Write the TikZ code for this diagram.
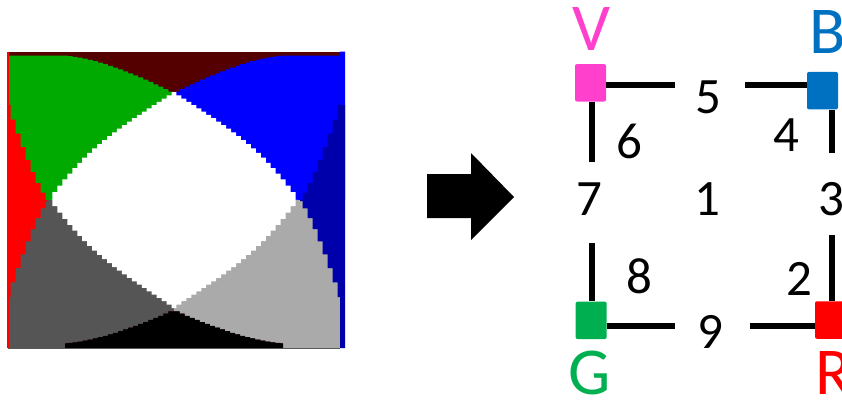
\documentclass[tikz,border=0pt]{standalone}
\usepackage{fontspec}
\setmainfont{Carlito}
\definecolor{mapdkred}{HTML}{550000}
\definecolor{mapgreen}{HTML}{00AA00}
\definecolor{mapblue}{HTML}{0000FF}
\definecolor{mapdkblue}{HTML}{0000AA}
\definecolor{mapdkgray}{HTML}{555555}
\definecolor{mapltgray}{HTML}{AAAAAA}
\definecolor{mapred}{HTML}{FF0000}
\definecolor{vpink}{HTML}{FF40CC}
\definecolor{bblue}{HTML}{0070C0}
\definecolor{ggreen}{HTML}{00B050}
\definecolor{rred}{HTML}{FF0000}
\begin{document}
\begin{tikzpicture}[x=1pt,y=-1pt,
  wire/.style={line width=6pt},
  marker/.style={rectangle, rounded corners=2pt, minimum width=31pt,
                 minimum height=37.5pt, inner sep=0pt},
  digit/.style={anchor=base, inner sep=0pt, font=\fontsize{51}{51}\selectfont},
  cornerlabel/.style={anchor=base, inner sep=0pt, font=\fontsize{67}{67}\selectfont},
  stairs/.style={const plot mark mid, samples=#1},
  declare function={bulge(\t)=\t*(1+(1-\t)*(0.65-0.45*\t));}]
\useasboundingbox (0,0) rectangle (842,400);

% ---- pixelated region map ----
\fill[mapdkred] (7.5,51.7) rectangle (345,348);
% upper left (green)
\fill[mapgreen] (8,55.7) -- (65,55.7)
  -- plot[stairs=22, domain=65:171] (\x,{55.7+36*((\x-64.9)/106.1)^1.5})
  -- (174,92) -- (174,200) -- (8,200) -- cycle;
% upper right (blue)
\fill[mapblue] (345,51.7) -- (345,200) -- (174,200) -- (174,92)
  -- plot[stairs=22, domain=177:283] (\x,{55.7+36*((283.1-\x)/106.1)^1.5})
  -- (340,55.7) -- (340,51.7) -- cycle;
% lower left (dark gray)
\fill[mapdkgray] (8,200) -- (174,200) -- (174,311.5)
  -- plot[stairs=22, domain=171:65] (\x,{343.3-32*((\x-64.9)/106.1)^1.5})
  -- (65,348) -- (8,348) -- cycle;
% lower right (light gray)
\fill[mapltgray] (174,200) -- (340,200) -- (340,348) -- (283,348)
  -- plot[stairs=22, domain=283:177] (\x,{343.3-32*((283.1-\x)/106.1)^1.5})
  -- (174,311.5) -- cycle;
% bottom (black)
\fill[black] (65,348)
  -- plot[stairs=22, domain=65:171] (\x,{343.3-32*((\x-64.9)/106.1)^1.5})
  -- plot[stairs=22, domain=177:283] (\x,{343.3-32*((283.1-\x)/106.1)^1.5})
  -- (283,348) -- cycle;
% centre (white), sides slightly convex
\fill[white]
     plot[stairs=26, domain=50:174] (\x,{199-107*bulge((\x-50)/124)})
  -- plot[stairs=26, domain=174:298] (\x,{199-107*bulge((298-\x)/124)})
  -- plot[stairs=26, domain=298:174] (\x,{199+109*bulge((298-\x)/124)})
  -- plot[stairs=26, domain=174:50] (\x,{199+109*bulge((\x-50)/124)})
  -- cycle;
% left wedge (red)
\fill[mapred] (7.5,105)
  -- plot[stairs=9, domain=8:48] (\x,{200-95*((48.01-\x)/40)^1.25})
  -- plot[stairs=9, domain=48:8] (\x,{201+96*((48.01-\x)/40)^1.25})
  -- (7.5,297) -- cycle;
\fill[mapred] (7.3,51.7) rectangle (8.5,348);
% right wedge (dark blue)
\fill[mapdkblue]
     plot[stairs=9, domain=300:340] (\x,{200-95*((\x-299.99)/40)^1.25})
  -- (345,105) -- (345,348) -- (340,348) -- (340,297)
  -- plot[stairs=9, domain=340:300] (\x,{201+96*((\x-299.99)/40)^1.25})
  -- cycle;
\draw[black!65, line width=0.8pt] (7.5,348) -- (340,348);

% ---- block arrow ----
\fill[black] (427,174) -- (471,174) -- (471,153) -- (514,197)
  -- (471,240) -- (471,218) -- (427,218) -- cycle;

% ---- labelled square ----
\node[marker, fill=vpink]  (V) at (590.5,82.8) {};
\node[marker, fill=bblue]  (B) at (822.5,90.6) {};
\node[marker, fill=ggreen] (G) at (591.2,320.3) {};
\node[marker, fill=rred]   (R) at (830.5,320) {};

\coordinate (e5w) at (675,84.5);
\coordinate (e5e) at (745,84.5);
\coordinate (e6)  at (592,161.7);
\coordinate (e4)  at (832,153.3);
\coordinate (e7)  at (592,243.3);
\coordinate (e3)  at (832,235);
\coordinate (e9w) at (675,325.5);
\coordinate (e9e) at (750,325.5);

\draw[wire] (V.east |- e5w) -- (e5w);
\draw[wire] (e5e) -- (B.west |- e5e);
\draw[wire] (V.south -| e6) -- (e6);
\draw[wire] (B.south -| e4) -- (e4);
\draw[wire] (e7) -- (G.north -| e7);
\draw[wire] (e3) -- (R.north -| e3);
\draw[wire] (G.east |- e9w) -- (e9w);
\draw[wire] (e9e) -- (R.west |- e9e);

\node[cornerlabel, text=vpink]  (lV) at (591.7,50.5) {V};
\node[cornerlabel, text=bblue]  (lB) at (828,53.3) {B};
\node[cornerlabel, text=ggreen] (lG) at (590,394) {G};
\node[cornerlabel, text=rred]   (lR) at (834,394) {R};

\node[digit] (n1) at (707.5,215) {1};
\node[digit] (n2) at (799.2,295) {2};
\node[digit] (n3) at (831.5,215) {3};
\node[digit] (n4) at (786.7,151.7) {4};
\node[digit] (n5) at (708.5,113.3) {5};
\node[digit] (n6) at (629.2,158.3) {6};
\node[digit] (n7) at (589.2,215) {7};
\node[digit] (n8) at (639.2,293.3) {8};
\node[digit] (n9) at (710,348.3) {9};
\end{tikzpicture}
\end{document}
